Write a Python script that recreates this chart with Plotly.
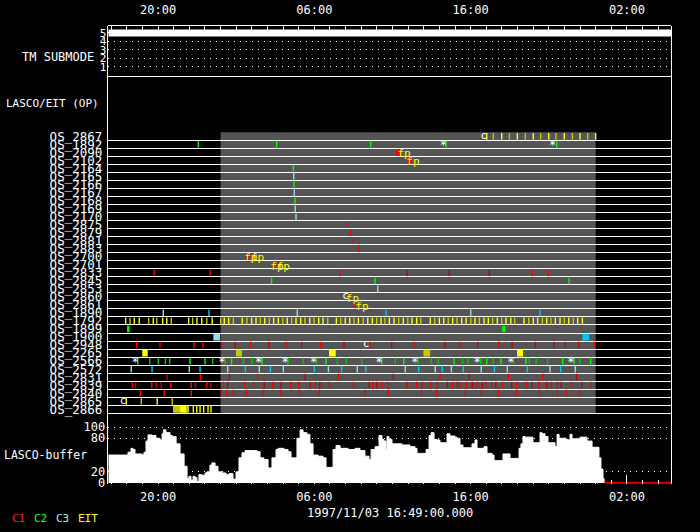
import pandas as pd
import plotly.graph_objects as go

# ---------------- data ----------------
START = "1997-11-03 16:49:00"
SPAN_HOURS = 36.0
DAY_BAND = ("1997-11-04 00:00", "1997-11-05 00:00")

ROW_LABELS = ["OS_2867", "OS_1892", "OS_2090", "OS_2102", "OS_2164", "OS_2165", "OS_2166",
              "OS_2167", "OS_2168", "OS_2169", "OS_2170", "OS_2875", "OS_2879", "OS_2881",
              "OS_2883", "OS_2700", "OS_2701", "OS_2833", "OS_2845", "OS_2853", "OS_2860",
              "OS_2861", "OS_1890", "OS_1792", "OS_1899", "OS_1900", "OS_2948", "OS_2265",
              "OS_2566", "OS_2572", "OS_2831", "OS_2839", "OS_2840", "OS_2865", "OS_2866"]

# TM submode (elapsed hours, level)
tm_hours = [0.0, 36.0]
tm_level = [5, 5]

# LASCO buffer (elapsed hours, percent)
buf_hours = [0.00, 1.13, 1.26, 1.45, 1.58, 1.71, 2.16, 2.28, 2.41, 2.54, 2.80, 3.05, 3.31, 3.44,
             3.53, 3.69, 3.95, 4.08, 4.34, 4.59, 4.85, 5.04, 5.16, 5.29, 5.42, 5.55, 5.67, 5.80,
             5.99, 6.19, 6.31, 6.50, 6.63, 6.83, 7.02, 7.28, 7.53, 7.72, 7.98, 8.17, 8.36, 8.55,
             8.75, 9.07, 9.51, 9.71, 9.96, 10.22, 10.47, 10.73, 10.86, 11.24, 11.50, 11.69,
             11.88, 12.07, 12.27, 12.46, 12.71, 12.90, 13.10, 13.42, 13.74, 13.93, 14.18, 14.38,
             14.57, 14.83, 15.34, 15.79, 16.10, 16.42, 16.68, 16.81, 17.07, 17.32, 17.51, 17.64,
             17.77, 17.83, 17.96, 18.15, 18.47, 18.79, 19.30, 19.62, 19.75, 20.13, 20.33, 20.52,
             20.65, 20.84, 21.03, 21.22, 21.54, 21.67, 21.86, 22.18, 22.31, 22.50, 22.69, 23.14,
             23.27, 23.46, 23.59, 23.91, 24.04, 24.23, 24.55, 24.68, 25.06, 25.25, 25.57, 25.70,
             26.15, 26.28, 26.40, 26.53, 26.66, 27.11, 27.17, 27.49, 27.62, 27.75, 27.94, 28.13,
             28.45, 28.58, 28.71, 28.84, 29.28, 29.41, 29.54, 29.67, 30.05, 30.18, 30.50, 30.63,
             30.82, 30.95, 31.27, 31.39, 31.52, 31.65, 31.72]
buf_value = [50, 50, 55, 62, 60, 52, 50, 55, 75, 86, 85, 80, 77, 88,
             95, 90, 85, 83, 70, 52, 30, 8, 12, 5, 12, 10, 3, 15,
             14, 18, 20, 32, 36, 30, 20, 18, 15, 17, 7, 20, 45, 54,
             58, 58, 56, 45, 42, 27, 45, 60, 62, 60, 56, 45,
             45, 80, 95, 90, 87, 70, 50, 48, 45, 28, 28, 60,
             67, 62, 60, 62, 58, 48, 42, 60, 65, 85, 78, 75,
             60, 83, 78, 70, 70, 68, 65, 62, 53, 53, 60, 85,
             90, 78, 77, 72, 72, 88, 84, 82, 80, 68, 63, 63,
             70, 77, 62, 62, 65, 53, 50, 40, 40, 52, 52, 44,
             44, 62, 70, 83, 82, 82, 72, 72, 90, 88, 83, 72,
             72, 65, 87, 80, 78, 77, 87, 79, 79, 82, 82, 75,
             75, 64, 64, 45, 25, 8, 0]
buf_empty_hours = [31.72, 36.0]

# Observation marks per row: (elapsed hours, colour code)
# R/r = C1 (bright/dark), G/g = C2, B/b = C3, Y/y = EIT
os_2867 = [(24.21, "Y"), (24.63, "y"), (25.17, "Y"), (25.66, "y"), (26.17, "Y"), (26.68, "y"),
           (27.19, "Y"), (27.66, "y"), (28.18, "Y"), (28.64, "y"), (29.17, "Y"), (29.69, "y"),
           (30.18, "Y"), (30.67, "y"), (31.18, "Y")]
os_1892 = [(5.76, "G"), (10.77, "G"), (16.79, "G"), (21.61, "G"), (28.69, "G")]
os_2164 = [(11.84, "G")]
os_2165 = [(11.86, "b")]
os_2166 = [(11.88, "G")]
os_2167 = [(11.90, "b")]
os_2168 = [(11.94, "G")]
os_2169 = [(11.96, "b")]
os_2170 = [(12.01, "b")]
os_2875 = [(15.29, "R")]
os_2879 = [(15.50, "R")]
os_2881 = [(15.68, "R")]
os_2883 = [(16.00, "R")]
os_2700 = [(8.96, "R"), (9.39, "R")]
os_2701 = [(10.62, "R"), (10.94, "R")]
os_2833 = [(2.94, "R"), (6.53, "R"), (14.82, "R"), (19.13, "r"), (21.82, "r"), (24.38, "r"),
           (27.13, "R"), (28.15, "R")]
os_2845 = [(10.45, "G"), (17.06, "G"), (29.48, "G")]
os_2853 = [(17.24, "b")]
os_2860 = [(15.40, "R")]
os_2861 = [(15.78, "R")]
os_1890 = [(3.52, "b"), (6.44, "B"), (12.09, "b"), (17.77, "B"), (23.19, "b"), (27.62, "B")]
os_1792_hours = [1.11, 1.39, 1.66, 1.98, 2.58, 2.88, 3.10, 3.48, 3.74, 4.03, 5.14, 5.40, 5.67,
                 5.98, 6.30, 6.65, 7.19, 7.42, 7.70, 8.00, 8.57, 8.87, 9.17, 9.45, 9.72, 10.01,
                 10.30, 10.58, 10.88, 11.16, 11.45, 11.73, 12.01, 12.31, 12.58, 12.89, 13.16,
                 13.46, 13.74, 14.04, 14.59, 14.87, 15.16, 15.45, 15.72, 16.00, 16.31, 16.60,
                 16.89, 17.17, 17.45, 17.70, 17.98, 18.28, 18.58, 18.87, 19.16, 19.43, 19.73,
                 19.99, 20.60, 20.88, 21.18, 21.46, 21.75, 22.03, 22.31, 22.61, 22.89, 23.19,
                 23.46, 23.74, 24.04, 24.31, 24.59, 24.89, 25.17, 25.44, 25.75, 26.00, 26.60,
                 26.90, 27.19, 27.47, 27.77, 28.05, 28.32, 28.60, 28.90, 29.17, 29.46, 29.75,
                 30.03, 30.33, 30.61, 30.90, 31.18]
os_1792_codes = "YyYYyYyYYyYyYYyYyYYyYyYYyYyYYyYyYYyYyYYyYyYYyYyYYyYyYYyYyYYyYyYYyYyYYyYyYYyYyYYyYyYYyYyYYyYyYY"
os_1792 = list(zip(os_1792_hours, os_1792_codes))
os_2948 = [(1.82, "R"), (3.31, "r"), (5.48, "R"), (6.04, "r"), (7.26, "R"), (8.11, "r"),
           (9.09, "R"), (10.26, "r"), (11.37, "R"), (12.37, "r"), (13.59, "R"), (15.08, "r"),
           (16.74, "R"), (18.13, "r"), (19.56, "R"), (21.54, "r"), (22.50, "R"), (23.63, "r"),
           (24.98, "R"), (25.83, "r"), (27.32, "r"), (28.50, "r"), (29.24, "r"), (30.10, "r"),
           (31.09, "R")]
os_2566 = [(1.88, "G"), (2.65, "g"), (3.20, "g"), (3.65, "g"), (3.93, "g"), (5.23, "G"),
           (6.19, "G"), (6.68, "g"), (7.49, "g"), (7.89, "G"), (8.64, "g"), (9.21, "g"),
           (9.83, "G"), (11.50, "g"), (12.48, "g"), (13.33, "g"), (13.93, "G"), (14.65, "g"),
           (15.23, "g"), (16.21, "g"), (17.49, "G"), (18.36, "g"), (18.90, "G"), (19.81, "g"),
           (20.67, "g"), (21.11, "g"), (22.12, "G"), (22.67, "g"), (23.03, "g"), (23.83, "g"),
           (24.21, "G"), (24.63, "g"), (25.12, "G"), (25.91, "g"), (26.72, "G"), (26.94, "g"),
           (27.38, "g"), (28.11, "g"), (29.07, "G"), (29.80, "G"), (30.18, "g"), (30.86, "G")]
os_2572 = [(1.47, "b"), (2.80, "B"), (5.18, "b"), (5.87, "B"), (7.64, "b"), (8.77, "B"),
           (9.66, "b"), (10.37, "B"), (11.20, "b"), (13.18, "B"), (14.08, "b"), (14.93, "B"),
           (15.93, "b"), (16.47, "B"), (19.00, "b"), (19.86, "B"), (20.92, "b"), (21.37, "B"),
           (21.95, "b"), (22.71, "B"), (23.86, "b"), (24.70, "B"), (25.53, "b"), (26.81, "B"),
           (28.26, "b"), (28.94, "B"), (29.88, "b")]
os_2831 = [(3.76, "r"), (5.89, "R"), (7.74, "r"), (9.56, "R"), (12.60, "r"), (14.72, "R"),
           (18.23, "r"), (21.22, "R"), (23.10, "r"), (25.59, "R"), (27.79, "R"), (29.97, "r")]
os_2839_hours = [1.54, 1.75, 2.78, 3.07, 3.39, 3.99, 5.31, 5.57, 6.30, 6.55, 7.36, 7.64, 8.73,
                 9.30, 9.98, 10.52, 11.05, 11.67, 12.18, 12.92, 13.24, 13.53, 14.14, 15.68,
                 16.70, 16.92, 17.17, 17.53, 17.85, 19.09, 19.73, 20.07, 20.60, 21.05, 21.69,
                 22.03, 22.33, 22.50, 22.93, 23.29, 23.59, 23.93, 24.15, 24.53, 24.79, 25.21,
                 25.81, 26.13, 26.74, 27.09, 27.54, 28.05, 28.34, 28.73, 28.98, 29.62, 30.29,
                 30.90]
os_2839_codes = "RrRrrRRrRrRrRRrRrRRrRrRRrRrRRrRrRRrRrRRrRrRRrRrRRrRrRRrRrR"
os_2839 = list(zip(os_2839_hours, os_2839_codes))
os_2840_hours = [2.05, 3.58, 5.31, 7.23, 7.58, 8.00, 8.83, 9.92, 11.05, 12.22, 13.50, 16.44,
                 17.91, 20.03, 20.99, 22.84, 23.86, 24.95, 26.10, 27.58, 28.73, 29.30, 30.13]
os_2840 = [(h, "R") for h in os_2840_hours]
os_2865 = [(1.15, "Y"), (2.11, "y"), (3.13, "Y"), (4.09, "y")]
os_2866 = [(5.44, "Y"), (5.66, "Y"), (5.87, "Y"), (6.10, "Y"), (6.38, "Y"), (6.57, "Y")]

ROW_MARKS = {"OS_2867": os_2867, "OS_1892": os_1892, "OS_2164": os_2164, "OS_2165": os_2165,
             "OS_2166": os_2166, "OS_2167": os_2167, "OS_2168": os_2168, "OS_2169": os_2169,
             "OS_2170": os_2170, "OS_2875": os_2875, "OS_2879": os_2879, "OS_2881": os_2881,
             "OS_2883": os_2883, "OS_2700": os_2700, "OS_2701": os_2701, "OS_2833": os_2833,
             "OS_2845": os_2845, "OS_2853": os_2853, "OS_2860": os_2860, "OS_2861": os_2861,
             "OS_1890": os_1890, "OS_1792": os_1792, "OS_2948": os_2948, "OS_2566": os_2566,
             "OS_2572": os_2572, "OS_2831": os_2831, "OS_2839": os_2839, "OS_2840": os_2840,
             "OS_2865": os_2865, "OS_2866": os_2866}

# Longer exposures: (row, start hours, end hours, code)
blocks = [("OS_2090", 18.41, 18.77, "R"), ("OS_2102", 19.18, 19.42, "R"),
          ("OS_1899", 1.20, 1.36, "G"), ("OS_1899", 25.20, 25.41, "G"),
          ("OS_1900", 6.72, 7.15, "b"), ("OS_1900", 30.33, 30.76, "B"),
          ("OS_2265", 2.17, 2.52, "Y"), ("OS_2265", 8.17, 8.55, "y"), ("OS_2265", 14.12, 14.55, "Y"),
          ("OS_2265", 20.16, 20.59, "y"), ("OS_2265", 26.15, 26.53, "Y"),
          ("OS_2866", 4.14, 4.59, "y"), ("OS_2866", 4.59, 5.02, "Y"), ("OS_2866", 5.02, 5.17, "y")]

# Flags drawn as characters: (row, elapsed hours)
star_flags = [("OS_1892", 21.43), ("OS_1892", 28.43), ("OS_2566", 1.71), ("OS_2566", 7.27),
              ("OS_2566", 9.62), ("OS_2566", 11.31), ("OS_2566", 13.14), ("OS_2566", 17.32),
              ("OS_2566", 19.62), ("OS_2566", 23.59), ("OS_2566", 25.75), ("OS_2566", 29.59)]
c_flags = [("OS_2867", 24.03), ("OS_2860", 15.18), ("OS_2948", 16.49), ("OS_2865", 0.94)]
fp_flags = [("OS_2090", 18.92), ("OS_2102", 19.49), ("OS_2700", 9.12), ("OS_2700", 9.55),
            ("OS_2701", 10.79), ("OS_2701", 11.20), ("OS_2860", 15.62), ("OS_2861", 16.23)]

LEGEND = [("C1", "#ff2020"), ("C2", "#20ff20"), ("C3", "#a8e4f4"), ("EIT", "#ffff30")]

# ---------------- styles ----------------
COLORS = {"R": "#ff0000", "r": "#c80000", "G": "#00ff00", "g": "#00c800",
          "B": "#00c8f0", "b": "#98dcec", "Y": "#ffff00", "y": "#c8c800"}
FONT = "DejaVu Sans Mono"
W, H = 700, 532
X0, X1 = 108.3 / W, 671 / W


def fy(px):
    return 1 - px / H


t0 = pd.Timestamp(START)


def at(h):
    return (t0 + pd.Timedelta(hours=h)).to_pydatetime()


t_end = at(SPAN_HOURS)
row_index = {lab: i for i, lab in enumerate(ROW_LABELS)}

fig = go.Figure()

# TM submode bar
fig.add_trace(go.Scatter(x=[at(h) for h in tm_hours], y=tm_level, mode="lines",
                         line=dict(color="white", width=7), xaxis="x2", yaxis="y2",
                         hoverinfo="skip", showlegend=False))

# buffer
fig.add_trace(go.Scatter(x=[at(h) for h in buf_hours], y=buf_value, mode="lines",
                         line=dict(color="white", width=1, shape="hv"), fill="tozeroy",
                         fillcolor="white", xaxis="x", yaxis="y", hoverinfo="skip",
                         showlegend=False))
fig.add_trace(go.Scatter(x=[at(h) for h in buf_empty_hours], y=[0, 0], mode="lines",
                         line=dict(color="#ff0000", width=2), xaxis="x", yaxis="y",
                         hoverinfo="skip", showlegend=False))

# row marks
seg = {c: ([], []) for c in COLORS}
for lab, marks in ROW_MARKS.items():
    i = row_index[lab]
    for h, c in marks:
        seg[c][0].extend([at(h), at(h), None])
        seg[c][1].extend([i + 0.08, i + 0.92, None])
for c, (xs, ys) in seg.items():
    if xs:
        fig.add_trace(go.Scatter(x=xs, y=ys, mode="lines", line=dict(color=COLORS[c], width=1.4),
                                 xaxis="x3", yaxis="y3", hoverinfo="skip", showlegend=False))

poly = {c: ([], []) for c in COLORS}
for lab, h0, h1, c in blocks:
    i = row_index[lab]
    a, b = at(h0), at(h1)
    poly[c][0].extend([a, b, b, a, a, None])
    poly[c][1].extend([i + 0.08, i + 0.08, i + 0.92, i + 0.92, i + 0.08, None])
for c, (xs, ys) in poly.items():
    if xs:
        fig.add_trace(go.Scatter(x=xs, y=ys, mode="lines", fill="toself", fillcolor=COLORS[c],
                                 line=dict(width=0, color=COLORS[c]), xaxis="x3", yaxis="y3",
                                 hoverinfo="skip", showlegend=False))


def text_trace(flags, txt, color, size, dy):
    return go.Scatter(x=[at(h) for _, h in flags], y=[row_index[r] + dy for r, _ in flags],
                      mode="text", text=[txt] * len(flags),
                      textfont=dict(family=FONT, size=size, color=color),
                      xaxis="x3", yaxis="y3", hoverinfo="skip", showlegend=False)


fig.add_trace(text_trace(star_flags, "*", "white", 12, 0.75))
fig.add_trace(text_trace(c_flags, "c", "white", 11, 0.45))
fig.add_trace(text_trace(fp_flags, "fp", "#ffff00", 11, 0.75))

# frame subplot (vertical borders)
fig.add_trace(go.Scatter(x=[t0.to_pydatetime()], y=[0.5], mode="markers",
                         marker=dict(opacity=0), xaxis="x4", yaxis="y4",
                         hoverinfo="skip", showlegend=False))

fig.add_shape(type="rect", xref="x3", yref="y3", x0=DAY_BAND[0], x1=DAY_BAND[1], y0=0, y1=35,
              fillcolor="#555555", line_width=0, layer="below")

tickfont = dict(family=FONT, size=12, color="white")
xcommon = dict(type="date", domain=[X0, X1], tick0="1997-11-03 20:00", dtick=36000000,
               tickformat="%H:%M", showgrid=False, zeroline=False, automargin=False)

fig.update_layout(
    width=W, height=H, margin=dict(l=0, r=0, t=0, b=0, autoexpand=False),
    paper_bgcolor="black", plot_bgcolor="rgba(0,0,0,0)", showlegend=False,
    xaxis=dict(**xcommon, anchor="y", range=[t0.to_pydatetime(), t_end], side="bottom",
               ticks="inside", ticklen=9, tickcolor="white", tickwidth=1, showline=False,
               tickfont=tickfont, ticklabelstandoff=4,
               minor=dict(tick0="1997-11-03 17:00", dtick=3600000, ticks="inside", ticklen=4,
                          tickcolor="white")),
    xaxis2=dict(**xcommon, anchor="y2", matches="x", side="top", ticks="inside", ticklen=10,
                tickcolor="white", tickwidth=1, showline=True, mirror=True, linecolor="white",
                linewidth=1, tickfont=tickfont, ticklabelstandoff=6,
                minor=dict(tick0="1997-11-03 17:00", dtick=3600000, ticks="inside", ticklen=5,
                           tickcolor="white")),
    xaxis3=dict(**xcommon, anchor="y3", matches="x", visible=False),
    xaxis4=dict(**xcommon, anchor="y4", matches="x", visible=False),
    yaxis=dict(domain=[fy(483.5), fy(413.3)], range=[-0.8, 124.6], anchor="x",
               tickvals=[0, 20, 80, 100], showgrid=True, gridcolor="white", gridwidth=1,
               griddash="1px,5px", zeroline=False, ticks="", tickfont=tickfont,
               ticklabelstandoff=2, automargin=False),
    yaxis2=dict(domain=[fy(76), fy(26)], range=[-0.06, 5.82], anchor="x2",
                tickvals=[1, 2, 3, 4, 5], showgrid=True, gridcolor="white", gridwidth=1,
                griddash="1px,5px", zeroline=False, ticks="",
                tickfont=dict(family=FONT, size=11, color="white"), ticklabelstandoff=1,
                automargin=False),
    yaxis3=dict(domain=[fy(414.3), fy(131.3)], range=[35.125, -0.125], anchor="x3",
                tickvals=[i + 0.5 for i in range(len(ROW_LABELS))], ticktext=ROW_LABELS,
                showgrid=False, zeroline=False, ticks="", automargin=False,
                tickfont=dict(family=FONT, size=12.5, color="white"), ticklabelstandoff=5,
                minor=dict(tickmode="linear", tick0=0, dtick=1, showgrid=True,
                           gridcolor="white", gridwidth=1)),
    yaxis4=dict(domain=[fy(484), fy(26)], range=[0, 1], anchor="x4", showline=True,
                mirror=True, linecolor="white", linewidth=1, showgrid=False, zeroline=False,
                showticklabels=False, ticks="", automargin=False),
)

ann = [
    dict(text="TM SUBMODE", x=96 / W, y=fy(57), xanchor="right", size=12),
    dict(text="LASCO/EIT (OP)", x=101 / W, y=fy(103), xanchor="right", size=11),
    dict(text="LASCO-buffer", x=89 / W, y=fy(455), xanchor="right", size=11.5),
    dict(text=START.replace("-", "/") + ".000", x=(X0 + X1) / 2, y=fy(513), xanchor="center",
         size=12),
]
for a in ann:
    size = a.pop("size")
    fig.add_annotation(xref="paper", yref="paper", yanchor="middle", showarrow=False,
                       font=dict(family=FONT, size=size, color="white"), **a)
lx = 10
for txt, col in LEGEND:
    fig.add_annotation(xref="paper", yref="paper", x=lx / W, y=fy(518), xanchor="left",
                       yanchor="middle", text=txt, showarrow=False,
                       font=dict(family=FONT, size=11, color=col))
    lx += 22 if len(txt) == 2 else 28

fig.write_html("out.html", config={"displayModeBar": False},
               post_script="document.body.style.margin='0';"
                           "document.body.style.background='black';"
                           "document.body.style.overflow='hidden';")
